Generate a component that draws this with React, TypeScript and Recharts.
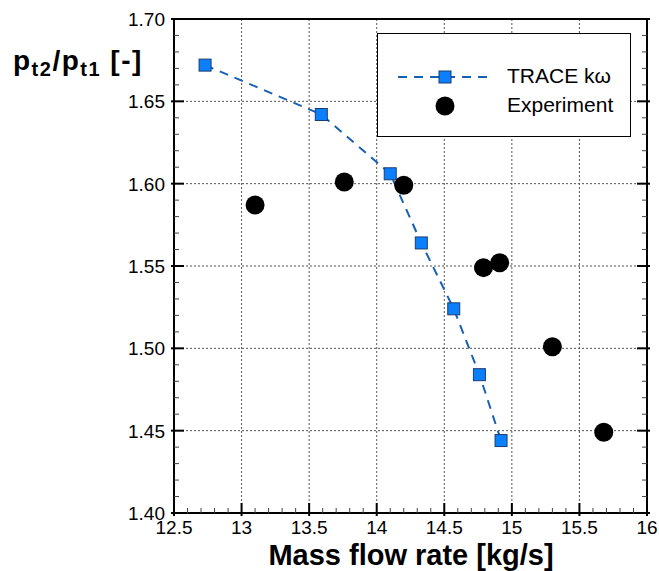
import React from "react";
import { ScatterChart, Scatter, XAxis, YAxis, ReferenceLine, Legend, Label } from "recharts";

// TRACE k-omega simulation (speedline)
const traceFlow = [12.73, 13.59, 14.1, 14.33, 14.57, 14.76, 14.92];
const tracePr = [1.672, 1.642, 1.606, 1.564, 1.524, 1.484, 1.444];

// measured points
const expFlow = [13.1, 13.76, 14.2, 14.79, 14.91, 15.3, 15.68];
const expPr = [1.587, 1.601, 1.599, 1.549, 1.552, 1.501, 1.449];

const xMajorTicks = [12.5, 13, 13.5, 14, 14.5, 15, 15.5, 16];
const yMajorTicks = [1.4, 1.45, 1.5, 1.55, 1.6, 1.65, 1.7];
const xMinorStep = 0.1;
const yMinorStep = 0.01;

const FONT = "'Liberation Sans', Arial, Helvetica, sans-serif";
const LINE_BLUE = "#1760b4";
const SQUARE_BLUE = "#0a80ff";

const subdivide = (majors: number[], step: number, digits: number) => {
  const out: number[] = [];
  const lo = majors[0];
  const hi = majors[majors.length - 1];
  const n = Math.round((hi - lo) / step);
  for (let i = 0; i <= n; i++) out.push(+(lo + i * step).toFixed(digits));
  return out;
};
const xTicks = subdivide(xMajorTicks, xMinorStep, 1);
const yTicks = subdivide(yMajorTicks, yMinorStep, 2);

const traceData = traceFlow.map((x, i) => ({ x, y: tracePr[i] }));
const expData = expFlow.map((x, i) => ({ x, y: expPr[i] }));

const isMajor = (v: number, majors: number[]) => majors.some((m) => Math.abs(m - v) < 1e-6);
const fmtX = (v: number) => (Number.isInteger(v) ? String(v) : v.toFixed(1));
const fmtY = (v: number) => v.toFixed(2);

const makeTick = (side: "bottom" | "top" | "left" | "right", majors: number[]) => (props: any) => {
  const { x, y, payload } = props;
  const v = payload.value;
  const major = isMajor(v, majors);
  const inLen = major ? 10 : 5;
  const outLen = major ? 3 : 0;
  let l = { x1: x, x2: x, y1: y, y2: y };
  if (side === "bottom") l = { x1: x, x2: x, y1: y + outLen, y2: y - inLen };
  if (side === "top") l = { x1: x, x2: x, y1: y - outLen, y2: y + inLen };
  if (side === "left") l = { x1: x - outLen, x2: x + inLen, y1: y, y2: y };
  if (side === "right") l = { x1: x + outLen, x2: x - inLen, y1: y, y2: y };
  return (
    <g>
      <line {...l} stroke={major ? "#000" : "#444"} strokeWidth={major ? 2 : 1} />
      {major && side === "bottom" && (
        <text x={x} y={y + 21} textAnchor="middle" fontSize={19} fontFamily={FONT} fill="#000">
          {fmtX(v)}
        </text>
      )}
      {major && side === "left" && (
        <text x={x - 9} y={y + 7} textAnchor="end" fontSize={19} fontFamily={FONT} fill="#000">
          {fmtY(v)}
        </text>
      )}
    </g>
  );
};

const SquareShape = (props: any) => {
  const { cx, cy } = props;
  if (cx == null || cy == null) return null;
  return <rect x={cx - 6} y={cy - 6} width={12} height={12} fill={SQUARE_BLUE} stroke="#1b3d6e" strokeWidth={1} />;
};

const CircleShape = (props: any) => {
  const { cx, cy } = props;
  if (cx == null || cy == null) return null;
  return <circle cx={cx} cy={cy} r={9.5} fill="#000" />;
};

const LegendBox = () => (
  <div
    style={{
      width: 254,
      height: 104,
      boxSizing: "border-box",
      border: "1.5px solid #000",
      background: "#fff",
    }}
  >
    <svg width={251} height={101} style={{ display: "block" }}>
      <line x1={20} x2={112} y1={43} y2={43} stroke={LINE_BLUE} strokeWidth={2} strokeDasharray="9 7" />
      <rect x={61} y={37} width={12} height={12} fill={SQUARE_BLUE} stroke="#1b3d6e" strokeWidth={1} />
      <text x={129} y={49} fontSize={21} fontFamily={FONT} fill="#000">
        TRACE kω
      </text>
      <circle cx={67} cy={72} r={9.5} fill="#000" />
      <text x={129} y={78} fontSize={21} fontFamily={FONT} fill="#000">
        Experiment
      </text>
    </svg>
  </div>
);

const XTitle = () => (
  <text x={411} y={565} textAnchor="middle" fontSize={29} fontWeight="bold" fontFamily={FONT} fill="#000">
    Mass flow rate [kg/s]
  </text>
);

const YTitle = () => (
  <text x={13} y={70} fontSize={28} fontWeight="bold" fontFamily={FONT} fill="#000" letterSpacing={1.5}>
    <tspan>p</tspan>
    <tspan fontSize={20} dy={6}>t2</tspan>
    <tspan dy={-6}>/p</tspan>
    <tspan fontSize={20} dy={6}>t1</tspan>
    <tspan dy={-6}> [-]</tspan>
  </text>
);

export default function App() {
  return (
    <div style={{ position: "absolute", left: 0, top: 0, background: "#fff" }}>
      <ScatterChart width={659} height={571} margin={{ top: 0, right: 0, bottom: 0, left: 0 }}>
        <XAxis
          xAxisId="x"
          type="number"
          dataKey="x"
          domain={[12.5, 16]}
          ticks={xTicks}
          interval={0}
          allowDataOverflow
          height={58}
          tickSize={0}
          tickMargin={0}
          tickLine={false}
          axisLine={{ stroke: "#000", strokeWidth: 2 }}
          tick={makeTick("bottom", xMajorTicks)}
        >
          <Label content={<XTitle />} />
        </XAxis>
        <XAxis
          xAxisId="xt"
          orientation="top"
          type="number"
          domain={[12.5, 16]}
          ticks={xTicks}
          interval={0}
          allowDataOverflow
          height={19}
          tickSize={0}
          tickMargin={0}
          tickLine={false}
          axisLine={{ stroke: "#000", strokeWidth: 2 }}
          tick={makeTick("top", xMajorTicks)}
        />
        <YAxis
          yAxisId="y"
          type="number"
          dataKey="y"
          domain={[1.4, 1.7]}
          ticks={yTicks}
          interval={0}
          allowDataOverflow
          width={174}
          tickSize={0}
          tickMargin={0}
          tickLine={false}
          axisLine={{ stroke: "#000", strokeWidth: 2 }}
          tick={makeTick("left", yMajorTicks)}
        >
          <Label content={<YTitle />} />
        </YAxis>
        <YAxis
          yAxisId="yr"
          orientation="right"
          type="number"
          domain={[1.4, 1.7]}
          ticks={yTicks}
          interval={0}
          allowDataOverflow
          width={12}
          tickSize={0}
          tickMargin={0}
          tickLine={false}
          axisLine={{ stroke: "#000", strokeWidth: 2 }}
          tick={makeTick("right", yMajorTicks)}
        />

        {xMajorTicks.slice(1, -1).map((v) => (
          <ReferenceLine
            key={"gx" + v}
            xAxisId="x"
            yAxisId="y"
            x={v}
            stroke="#555"
            strokeWidth={1}
            strokeDasharray="2 2"
          />
        ))}
        {yMajorTicks.slice(1, -1).map((v) => (
          <ReferenceLine
            key={"gy" + v}
            xAxisId="x"
            yAxisId="y"
            y={v}
            stroke="#555"
            strokeWidth={1}
            strokeDasharray="2 2"
          />
        ))}

        <Scatter
          name="TRACE kω"
          data={traceData}
          xAxisId="x"
          yAxisId="y"
          fill={SQUARE_BLUE}
          line={{ stroke: LINE_BLUE, strokeWidth: 2, strokeDasharray: "9 7" }}
          lineType="joint"
          shape={SquareShape}
          isAnimationActive={false}
        />
        <Scatter
          name="Experiment"
          data={expData}
          xAxisId="x"
          yAxisId="y"
          fill="#000"
          shape={CircleShape}
          isAnimationActive={false}
        />

        <Legend
          layout="vertical"
          align="center"
          verticalAlign="middle"
          content={<LegendBox />}
          wrapperStyle={{ left: 377, top: 33, width: 254, height: 104, right: "auto", bottom: "auto" }}
        />
      </ScatterChart>
    </div>
  );
}
